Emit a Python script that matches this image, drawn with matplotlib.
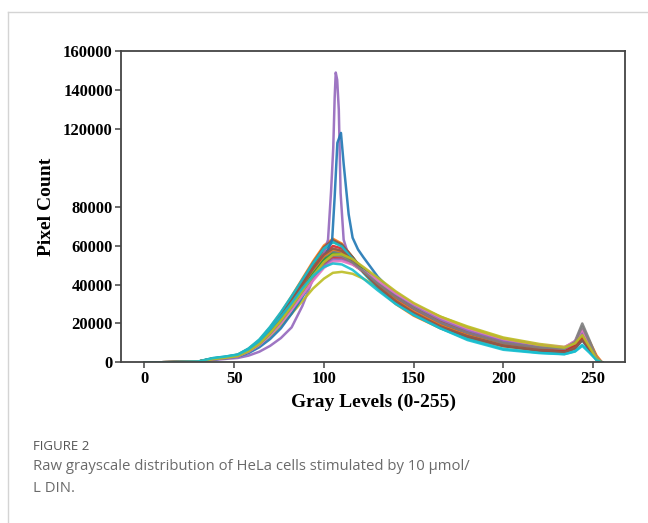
import matplotlib
matplotlib.use("Agg")
import matplotlib.pyplot as plt
from matplotlib.lines import Line2D

gray = [0, 15, 30, 38, 45, 52, 58, 64, 70, 76, 82, 88, 94, 100, 105, 110, 116, 122,
        130, 140, 150, 165, 180, 200, 220, 234, 240, 244, 248, 252, 255]

# the two samples with a sharp spike near 107 have their own finer grid
gray_spike_purple = [0, 15, 30, 38, 45, 52, 58, 64, 70, 76, 82, 88, 94, 100, 102.3, 104, 105.2,
                     106, 106.6, 107.4, 108.3, 109.3, 111, 113, 116, 122, 130, 140, 150, 165, 180,
                     200, 220, 234, 240, 244, 248, 252, 255]
gray_spike_blue = [0, 15, 30, 38, 45, 52, 58, 64, 70, 76, 82, 88, 94, 100, 104.6, 106, 107.5,
                   109.5, 111, 113.8, 116, 119, 122, 130, 140, 150, 165, 180, 200, 220, 234,
                   240, 244, 248, 252, 255]

c00 = [0, 150, 400, 1800, 2500, 3400, 5900, 9700, 15200, 21800, 29300, 37800, 46200, 53500, 57000,
       56500, 52500, 47500, 41000, 33500, 27500, 20000, 14800, 9800, 7000, 5800, 8000, 12000, 6500, 1500, 0]
c01 = [0, 150, 450, 2000, 2800, 4000, 7000, 11500, 18000, 25500, 34000, 43000, 52000, 60000, 63500,
       61000, 54000, 46500, 38000, 30000, 24000, 17500, 12500, 8300, 6000, 5200, 7800, 14500, 11000, 3500, 0]
c02 = [0, 150, 450, 2000, 2700, 3800, 6700, 11000, 17300, 24500, 32800, 41500, 50300, 58000, 61800,
       60000, 54000, 47000, 39000, 31500, 25500, 18500, 13500, 9000, 6500, 5500, 8000, 13000, 8000, 2000, 0]
c03 = [0, 150, 420, 1900, 2600, 3600, 6400, 10500, 16500, 23500, 31500, 40000, 48500, 56000, 59800,
       58500, 53000, 47000, 39500, 32000, 26000, 19000, 14000, 9300, 6700, 5600, 8000, 12500, 7500, 1800, 0]
c04 = [0, 100, 300, 1200, 1800, 2300, 3500, 5500, 8500, 12500, 18000, 29000, 43000, 56000, 63000,
       88000, 110000, 136000, 148800, 145000, 129700, 87000, 63000, 57000, 53500, 48000, 41000, 33500,
       27500, 20500, 15500, 10500, 7800, 6500, 9500, 15500, 9000, 2000, 0]
c05 = [0, 150, 450, 2000, 2800, 3900, 6900, 11300, 17800, 25200, 33500, 42300, 51200, 59200, 62800,
       60500, 54000, 46800, 38500, 30500, 24500, 17800, 12800, 8400, 6000, 5000, 7000, 11500, 7000, 1500, 0]
c06 = [0, 150, 380, 1700, 2400, 3200, 5600, 9200, 14500, 20800, 28000, 36000, 44000, 51000, 54800,
       55000, 52500, 48500, 43000, 36000, 30000, 22500, 17000, 11500, 8600, 7300, 10500, 16500, 9000, 2000, 0]
c07 = [0, 150, 400, 1800, 2500, 3400, 5900, 9600, 15000, 21500, 29000, 37300, 45500, 52800, 56500,
       56300, 53000, 48000, 41500, 34000, 28000, 20500, 15500, 10500, 8000, 7500, 11000, 20000, 11500, 2500, 0]
c08 = [0, 150, 400, 1600, 2300, 3200, 5500, 9000, 13500, 19000, 25000, 31500, 38000, 43000, 46000,
       46500, 45500, 43000, 38500, 33500, 29500, 23500, 18500, 12800, 9500, 8000, 10000, 13500, 7500, 1800, 0]
c09 = [0, 150, 500, 2200, 3000, 4100, 7200, 11800, 18300, 25800, 34000, 42500, 51000, 58500, 61800,
       59500, 53000, 46000, 38000, 30500, 24500, 17500, 12000, 7000, 5000, 4300, 5800, 9000, 5500, 1200, 0]
c10 = [0, 100, 350, 1500, 2200, 3000, 4800, 7800, 12000, 17500, 25000, 33500, 43000, 53000, 63000,
       85000, 112700, 117800, 102000, 76000, 64000, 58000, 54000, 44000, 34500, 28000, 20500, 15000,
       9800, 7000, 5800, 8000, 11500, 6500, 1500, 0]
c11 = [0, 150, 420, 1900, 2600, 3600, 6300, 10300, 16200, 23000, 30800, 39200, 47500, 54500, 58000,
       57000, 52000, 46500, 39500, 32000, 26000, 19000, 14000, 9300, 6700, 5700, 8200, 13000, 9500, 3000, 0]
c12 = [0, 150, 400, 1800, 2500, 3400, 6000, 9800, 15400, 22000, 29500, 37500, 45500, 52500, 55800,
       55300, 52000, 47500, 41000, 34000, 28000, 21000, 15500, 10300, 7500, 6300, 9000, 13500, 7500, 1800, 0]
c13 = [0, 150, 400, 1700, 2400, 3300, 5700, 9300, 14700, 21000, 28300, 36000, 43800, 50500, 53800,
       53500, 50500, 46500, 40500, 33500, 27800, 20800, 15300, 10200, 7400, 6200, 8800, 12500, 7000, 1600, 0]
c14 = [0, 150, 380, 1700, 2400, 3200, 5600, 9100, 14300, 20500, 27600, 35200, 42800, 49500, 52800,
       52800, 50500, 47000, 41500, 35000, 29200, 22000, 16500, 11000, 8200, 7000, 10000, 15000, 8500, 2000, 0]
c15 = [0, 150, 420, 1900, 2600, 3700, 6400, 10500, 16500, 23500, 31300, 39800, 48200, 55300, 58500,
       57300, 52300, 46500, 39000, 31500, 25500, 18500, 13500, 8800, 6300, 5300, 7500, 11500, 7000, 1500, 0]
c16 = [0, 150, 380, 1650, 2350, 3150, 5500, 9000, 14000, 20000, 27000, 34500, 42000, 48500, 51800,
       52000, 50200, 47000, 42000, 35500, 30000, 23000, 17500, 12000, 9000, 7800, 11000, 17000, 9500, 2200, 0]
c17 = [0, 150, 400, 1800, 2500, 3300, 5800, 9400, 14800, 21200, 28500, 36500, 44500, 51300, 54800,
       54500, 51200, 46800, 40500, 33500, 27800, 20500, 15200, 10000, 7600, 7000, 10500, 18500, 10500, 2300, 0]
c18 = [0, 150, 400, 1700, 2400, 3300, 5800, 9500, 15000, 21500, 28800, 36700, 44500, 51500, 55300,
       55500, 53000, 49000, 43500, 36500, 30500, 23500, 18000, 12300, 9000, 7600, 9800, 14000, 8000, 1800, 0]
c19 = [0, 150, 500, 2200, 3000, 4000, 6800, 11000, 17000, 23500, 30500, 38000, 44500, 49000, 50800,
       50300, 47500, 43000, 37000, 30000, 24500, 17500, 11500, 6500, 4800, 4200, 5600, 8500, 5000, 1200, 0]

samples = [(gray, c00), (gray, c01), (gray, c02), (gray, c03), (gray_spike_purple, c04),
           (gray, c05), (gray, c06), (gray, c07), (gray, c08), (gray, c09),
           (gray_spike_blue, c10), (gray, c11), (gray, c12), (gray, c13), (gray, c14),
           (gray, c15), (gray, c16), (gray, c17), (gray, c18), (gray, c19)]

yticks = [0, 20000, 40000, 60000, 80000, 120000, 140000, 160000]

fig = plt.figure(figsize=(6.48, 5.23), dpi=100)
ax = fig.add_axes([0.187, 0.307, 0.778, 0.596])

for x, y in samples:
    ax.plot(x, y, lw=1.8, alpha=0.9)

ax.set_ylim(0, 160000)
ax.set_xlim(-13, 268)
ax.set_yticks(yticks)
ax.set_xticks([0, 50, 100, 150, 200, 250])

serif = "Liberation Serif"
for lab in ax.get_xticklabels() + ax.get_yticklabels():
    lab.set_fontfamily(serif)
    lab.set_fontweight("bold")
    lab.set_fontsize(12)
ax.set_xlabel("Gray Levels (0-255)", fontfamily=serif, fontweight="bold", fontsize=14, labelpad=5)
ax.set_ylabel("Pixel Count", fontfamily=serif, fontweight="bold", fontsize=14, labelpad=6)
for s in ax.spines.values():
    s.set_color("#444444")
    s.set_linewidth(1.3)
ax.tick_params(color="#444444", width=1.1, length=4, pad=2)

# card frame + caption
fig.add_artist(Line2D([0.0123, 1.0], [0.977, 0.977], color="#d4d4d4", lw=1))
fig.add_artist(Line2D([0.0123, 0.0123], [0.0, 0.977], color="#d4d4d4", lw=1))
fig.text(33 / 648, 1 - 447 / 523, "FIGURE 2", fontfamily="Open Sans", fontsize=9.5,
         color="#555555", va="center")
fig.text(33 / 648, 1 - 467 / 523, "Raw grayscale distribution of HeLa cells stimulated by 10 μmol/",
         fontfamily="Open Sans", fontsize=10.7, color="#6a6a6a", va="center")
fig.text(33 / 648, 1 - 489 / 523, "L DIN.", fontfamily="Open Sans", fontsize=10.7,
         color="#6a6a6a", va="center")

fig.savefig("out.png", dpi=100)
